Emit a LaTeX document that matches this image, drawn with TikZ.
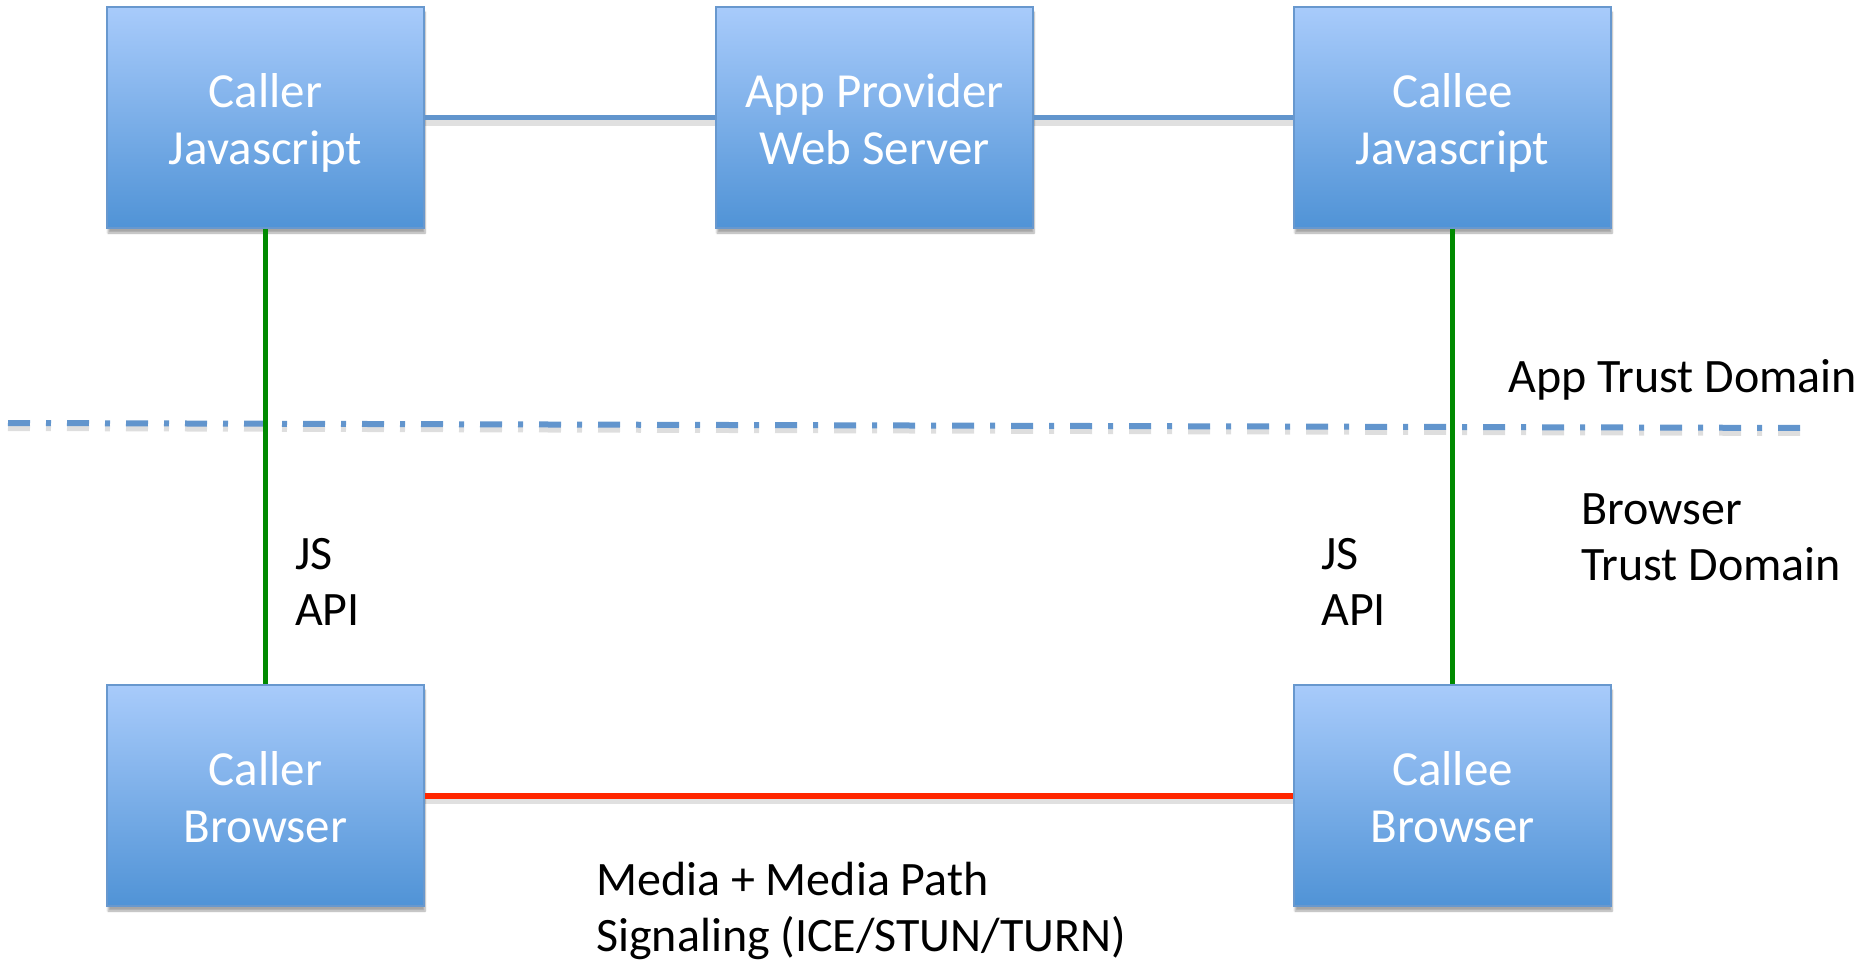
\documentclass[tikz,border=0pt]{standalone}
\usepackage{fontspec}
\setmainfont{Carlito}
\usetikzlibrary{shadows.blur}
\definecolor{boxtop}{RGB}{168,203,251}
\definecolor{boxbot}{RGB}{80,147,214}
\definecolor{boxedge}{RGB}{104,152,206}
\definecolor{linkblue}{RGB}{98,149,205}
\definecolor{apigreen}{RGB}{0,138,0}
\definecolor{mediared}{RGB}{255,38,0}
% two centred lines, drawn a little below the box centre
\newcommand{\boxtext}[2]{\raisebox{-7pt}[\height][\depth]{\begin{tabular}{@{}c@{}}#1\\#2\end{tabular}}}
\tikzset{
  entity/.style={rectangle, minimum width=317pt, minimum height=221pt,
    top color=boxtop, bottom color=boxbot, draw=boxedge, line width=1.5pt,
    text=white, align=center, inner sep=0pt,
    font=\fontsize{49}{57}\selectfont,
    blur shadow={shadow xshift=1pt, shadow yshift=-5pt, shadow blur steps=6, shadow opacity=35}},
  label/.style={inner sep=0pt, align=left, anchor=west, font=\fontsize{48}{56}\selectfont},
  linkshadow/.style={draw=black, opacity=0.12, line width=9pt, transform canvas={yshift=-4pt}},
  weblink/.style={draw=linkblue, line width=5.5pt},
  apilink/.style={draw=apigreen, line width=5.5pt},
  medialink/.style={draw=mediared, line width=6pt},
  boundary/.style={draw=linkblue, line width=6pt, dash pattern=on 22pt off 16pt on 5pt off 16pt},
}
\begin{document}
\begin{tikzpicture}[x=1pt, y=-1pt]
  \useasboundingbox (0,0) rectangle (1868,961);

  % trust domain boundary (with faint shadow underneath)
  \coordinate (bl) at (8,423);
  \coordinate (br) at (1815,428);
  \draw[boundary, draw=black, opacity=0.13, transform canvas={yshift=-5pt}] (bl) -- (br);
  \draw[boundary] (bl) -- (br);

  % components
  \node[entity] (cjs) at (265.5,117.5) {\boxtext{Caller}{Javascript}};
  \node[entity] (app) at (874.5,117.5) {\boxtext{App Provider}{Web Server}};
  \node[entity] (ejs) at (1452.5,117.5) {\boxtext{Callee}{Javascript}};
  \node[entity] (cbr) at (265.5,795.5) {\boxtext{Caller}{Browser}};
  \node[entity] (ebr) at (1452.5,795.5) {\boxtext{Callee}{Browser}};

  % connector shadows
  \draw[linkshadow] (cjs.east) -- (app.west);
  \draw[linkshadow] (app.east) -- (ejs.west);
  \draw[linkshadow] (cbr.east) -- (ebr.west);

  % connectors
  \draw[weblink] (cjs.east) -- (app.west);
  \draw[weblink] (app.east) -- (ejs.west);
  \draw[apilink] (cjs.south) -- (cbr.north);
  \draw[apilink] (ejs.south) -- (ebr.north);
  \draw[medialink] (cbr.east) -- (ebr.west);

  % labels
  \node[label] (appdom) at (1508,380) {App Trust Domain};
  \node[label] (brdom) at (1581,537) {Browser\\Trust Domain};
  \node[label] (jsl) at (295,582) {JS\\API};
  \node[label] (jsr) at (1321,582) {JS\\API};
  \node[label] (media) at (596,911) {Media + Media Path\\Signaling (ICE/STUN/TURN)};
\end{tikzpicture}
\end{document}
